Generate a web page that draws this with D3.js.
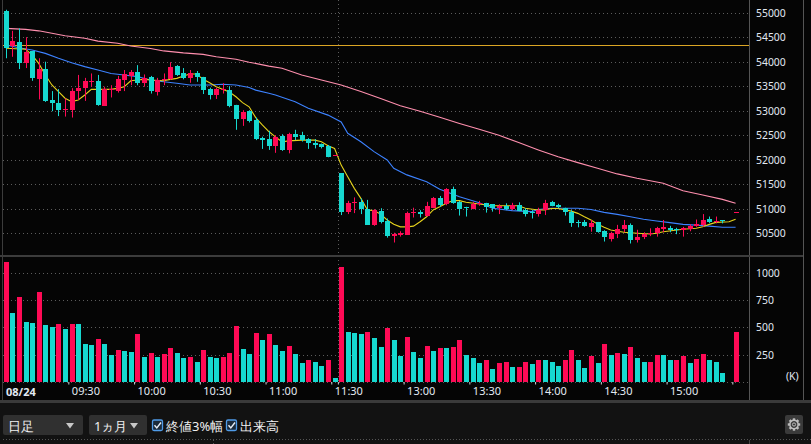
<!DOCTYPE html>
<html>
<head>
<meta charset="utf-8">
<script src="https://cdn.jsdelivr.net/npm/d3@7"></script>
<style>
    body { margin: 0; background: #121212; overflow: hidden; }
    svg { display: block; }
    text { font-family: "Noto Sans", "Liberation Sans", sans-serif; }
</style>
</head>
<body>
<div id="chart"></div>
<script>
// 3-minute candles, slot 0 = 09:00 ... slot 50 = 11:30 close, slot 51 = 12:30 ... slot 111 = 15:30 close
const openP = [
    55030, 54310, 54400, 53980, 54210, 53660, 53850, 53220, 53160, 53000,
    53010, 53390, 53470, 53590, 53610, 53100, 53430, 53400, 53610, 53690,
    53800, 53570, 53680, 53390, 53620, 53650, 53910, 53760, 53660, 53770,
    53680, 53440, 53320, 53410, 53420, 53120, 52830, 52990, 52810, 52450,
    52420, 52280, 52480, 52200, 52520, 52500, 52420, 52350, 52320, 52280,
    52090, 51720, 50920, 51100, 51140, 50990, 50670, 50950, 50750, 50430,
    50460, 50480, 50910, 50930, 50850, 51020, 51220, 51090, 51400, 51140,
    51030, 50990, 51090, 51110, 51090, 51010, 51060, 50990, 51080, 50970,
    50930, 50890, 50970, 51140, 51070, 51010, 50930, 50720, 50730, 50620,
    50730, 50540, 50380, 50480, 50580, 50670, 50360, 50410, 50480, 50500,
    50590, 50610, 50580, 50560, 50590, 50650, 50670, 50790, 50720, 50760,
    null, 50930
];
const highP = [
    55060, 54630, 54680, 54500, 54220, 54070, 54000, 53400, 53440, 53250,
    53460, 53730, 53670, 53760, 53730, 53490, 53520, 53710, 53830, 53830,
    53930, 53740, 53710, 53670, 53760, 53990, 53930, 53870, 53830, 53810,
    53690, 53470, 53470, 53560, 53500, 53120, 53010, 53010, 52860, 52470,
    52590, 52500, 52520, 52550, 52610, 52570, 52440, 52420, 52330, 52300,
    52090, 51720, 51160, 51230, 51210, 51180, 50990, 51010, 50800, 50510,
    50540, 50940, 51020, 50970, 51140, 51240, 51260, 51420, 51450, 51160,
    51040, 51140, 51160, 51120, 51090, 51090, 51110, 51120, 51130, 51010,
    50970, 51020, 51180, 51160, 51100, 51020, 50970, 50770, 50770, 50770,
    50730, 50560, 50530, 50670, 50770, 50700, 50570, 50520, 50600, 50630,
    50770, 50650, 50610, 50630, 50680, 50780, 50890, 50840, 50840, 50760,
    null, 50930
];
const lowP = [
    54070, 54100, 53850, 53870, 53610, 53230, 53180, 52990, 52890, 52880,
    52860, 53220, 53200, 53490, 53100, 53100, 53270, 53370, 53400, 53520,
    53520, 53490, 53350, 53310, 53520, 53630, 53710, 53640, 53570, 53590,
    53340, 53230, 53240, 53350, 53070, 52610, 52690, 52760, 52400, 52220,
    52200, 52140, 52180, 52130, 52400, 52370, 52220, 52230, 52230, 52050,
    52090, 50870, 50890, 50910, 50890, 50670, 50650, 50700, 50410, 50310,
    50430, 50480, 50820, 50820, 50840, 51010, 51040, 51070, 51100, 50860,
    50840, 50990, 51060, 50920, 50940, 50890, 50970, 50970, 50950, 50840,
    50800, 50840, 50870, 51050, 51010, 50860, 50630, 50620, 50630, 50530,
    50510, 50330, 50330, 50400, 50520, 50290, 50310, 50380, 50440, 50430,
    50520, 50520, 50480, 50430, 50540, 50630, 50630, 50710, 50700, 50700,
    null, 50930
];
const closeP = [
    54270, 54420, 53980, 54200, 53660, 53860, 53200, 53160, 53010, 53030,
    53400, 53460, 53610, 53610, 53120, 53440, 53450, 53650, 53740, 53780,
    53570, 53670, 53390, 53630, 53650, 53890, 53730, 53660, 53760, 53690,
    53420, 53320, 53440, 53440, 53100, 52830, 52970, 52790, 52420, 52410,
    52280, 52460, 52200, 52520, 52460, 52400, 52330, 52310, 52250, 52060,
    52090, 50920, 51110, 51130, 50990, 50670, 50970, 50720, 50440, 50480,
    50510, 50920, 50930, 50890, 51060, 51220, 51080, 51400, 51110, 50990,
    51010, 51100, 51120, 51030, 51010, 51060, 50990, 51080, 50960, 50890,
    50900, 50970, 51120, 51060, 51030, 50930, 50710, 50700, 50650, 50710,
    50530, 50410, 50500, 50580, 50670, 50360, 50430, 50480, 50500, 50610,
    50630, 50570, 50560, 50600, 50650, 50690, 50770, 50730, 50750, 50740,
    null, 50930
];

// volume in thousands; volRed: 1 = red bar, 0 = cyan bar
const volume = [
    1100, 636, 780, 553, 544, 828, 523, 505, 532, 487,
    532, 532, 349, 340, 395, 349, 249, 294, 285, 275,
    441, 230, 267, 230, 258, 313, 267, 221, 230, 184,
    294, 230, 221, 230, 267, 514, 304, 258, 450, 386,
    441, 340, 285, 331, 258, 175, 203, 184, 148, 203,
    38, 1054, 458, 450, 441, 458, 404, 322, 495, 386,
    240, 413, 276, 221, 331, 285, 313, 313, 322, 386,
    249, 221, 175, 203, 121, 175, 184, 139, 139, 184,
    166, 203, 203, 184, 148, 203, 294, 203, 130, 240,
    175, 349, 249, 267, 258, 322, 221, 184, 184, 249,
    249, 203, 203, 240, 175, 212, 258, 203, 184, 84,
    0, 458
];
const volRed = [
    1, 0, 1, 0, 0, 1, 0, 0, 1, 0,
    1, 0, 0, 0, 1, 0, 0, 1, 0, 0,
    1, 0, 1, 0, 1, 1, 0, 0, 1, 0,
    1, 0, 0, 1, 1, 1, 0, 0, 1, 0,
    1, 0, 0, 1, 0, 0, 1, 0, 0, 1,
    0, 1, 0, 0, 0, 1, 0, 0, 1, 0,
    0, 1, 0, 0, 1, 0, 1, 0, 1, 1,
    0, 0, 0, 1, 0, 1, 1, 0, 1, 1,
    0, 1, 0, 0, 0, 1, 1, 0, 0, 1,
    0, 1, 0, 1, 0, 1, 0, 0, 1, 1,
    0, 0, 1, 1, 0, 1, 1, 0, 0, 0,
    0, 1
];

// moving averages as [slot, price]
const maShort = [
    [0, 54275], [3, 54255], [4, 54135], [5, 53965], [6, 53730], [7, 53525], [8, 53390], [9, 53255],
    [10, 53185], [11, 53220], [12, 53320], [13, 53435], [16, 53435], [17, 53455], [18, 53490],
    [19, 53610], [20, 53625], [21, 53640], [22, 53625], [24, 53610], [25, 53640], [26, 53660],
    [27, 53710], [28, 53750], [29, 53750], [30, 53640], [31, 53570], [32, 53490], [34, 53380],
    [35, 53285], [36, 53165], [37, 53080], [38, 52860], [39, 52710], [40, 52575], [41, 52465],
    [42, 52365], [43, 52385], [45, 52400], [47, 52400], [48, 52365], [49, 52285], [50, 52230],
    [51, 51890], [52, 51650], [53, 51415], [54, 51210], [55, 50975], [56, 50960], [57, 50890],
    [58, 50770], [59, 50685], [60, 50630], [61, 50630], [62, 50645], [63, 50735], [64, 50835],
    [65, 50975], [66, 51040], [67, 51110], [68, 51165], [69, 51165], [70, 51130], [72, 51095],
    [74, 51060], [78, 51060], [79, 51010], [81, 50975], [82, 50975], [83, 51005], [84, 51005],
    [86, 50950], [87, 50905], [88, 50835], [89, 50770], [90, 50685], [91, 50620], [92, 50565],
    [94, 50520], [96, 50500], [98, 50485], [99, 50500], [100, 50530], [103, 50580], [105, 50600],
    [106, 50630], [107, 50680], [108, 50720], [110, 50735], [111, 50785]
];
const maMid = [
    [0, 54340], [2, 54285], [4, 54240], [6, 54170], [8, 54070], [10, 53980], [12, 53900],
    [14, 53830], [16, 53760], [18, 53730], [20, 53695], [22, 53625], [24, 53590], [26, 53560],
    [28, 53525], [31, 53525], [33, 53540], [35, 53525], [37, 53475], [38, 53420], [40, 53355],
    [41, 53320], [44, 53185], [46, 53050], [49, 52910], [51, 52770], [52, 52540], [54, 52365],
    [56, 52165], [58, 51995], [59, 51825], [61, 51690], [64, 51550], [66, 51395], [69, 51245],
    [72, 51120], [74, 51010], [77, 50960], [80, 50940], [81, 50985], [83, 51010], [87, 51010],
    [89, 50985], [91, 50925], [93, 50885], [95, 50835], [97, 50785], [99, 50750], [101, 50715],
    [103, 50680], [105, 50665], [107, 50645], [109, 50620], [111, 50620]
];
const maLong = [
    [0, 54680], [3, 54660], [5, 54630], [7, 54580], [9, 54530], [12, 54480], [14, 54420],
    [17, 54375], [19, 54320], [22, 54270], [24, 54220], [27, 54180], [30, 54150], [32, 54100],
    [35, 54050], [37, 53990], [40, 53910], [42, 53865], [45, 53730], [48, 53625], [51, 53525],
    [54, 53390], [57, 53250], [60, 53100], [63, 52990], [66, 52865], [69, 52740], [72, 52620],
    [75, 52500], [78, 52350], [81, 52200], [84, 52060], [87, 51940], [90, 51825], [93, 51710],
    [96, 51620], [100, 51520], [103, 51365], [106, 51280], [109, 51190], [111, 51110]
];
const prevClose = 54340;

const priceTicks = [50500, 51000, 51500, 52000, 52500, 53000, 53500, 54000, 54500, 55000];
const volTicks = [250, 500, 750, 1000];
const tickSlots = [10, 20, 30, 40, 50, 51, 61, 71, 81, 91, 101, 111];
const tickLabels = ["09:30", "10:00", "10:30", "11:00", "11:30", "", "13:00", "13:30", "14:00", "14:30", "15:00", ""];
const dateLabel = "08/24";
const sessionBreakSlot = 51;

const W = 811, H = 444;
const plotLeft = 2.6, plotRight = 749, axisRight = 803;
const RED = "#ff0a55", CYAN = "#16d9d0";
const TXT = "#e2e9f2", GRID = "#5c5c5c", FRAME = "#3c3c3c";

const svg = d3.select("#chart").append("svg")
    .attr("width", W)
    .attr("height", H);

// backgrounds
svg.append("rect").attr("width", W).attr("height", H).attr("fill", "#121212");
svg.append("rect").attr("width", W).attr("height", 400).attr("fill", "#050505");

// scales
const x = d3.scaleLinear().domain([0, 112]).range([plotLeft, plotLeft + 112 * 6.574]);
const yP = d3.scaleLinear().domain([50500, 55000]).range([233.2, 12.7]);
const yV = d3.scaleLinear().domain([0, 1000]).range([382.2, 272.7]);
const cx = i => Math.round(x(i + 0.5)) + 0.5;

// grid lines
const grid = svg.append("g").attr("stroke", GRID).attr("stroke-dasharray", "1 3");
grid.selectAll(".pg").data(priceTicks).join("line")
    .attr("x1", 3).attr("x2", plotRight)
    .attr("y1", d => Math.round(yP(d)) + 0.5).attr("y2", d => Math.round(yP(d)) + 0.5);
grid.selectAll(".vg").data([0].concat(volTicks)).join("line")
    .attr("x1", 3).attr("x2", plotRight)
    .attr("y1", d => Math.round(yV(d)) + 0.5).attr("y2", d => Math.round(yV(d)) + 0.5);
grid.append("line")
    .attr("x1", Math.round(x(sessionBreakSlot)) + 0.5).attr("x2", Math.round(x(sessionBreakSlot)) + 0.5)
    .attr("y1", 0).attr("y2", 382);

// previous close line
svg.append("line")
    .attr("x1", 3).attr("x2", plotRight)
    .attr("y1", Math.round(yP(prevClose)) + 0.5).attr("y2", Math.round(yP(prevClose)) + 0.5)
    .attr("stroke", "#dba524").attr("stroke-width", 1);

// moving averages
const maLine = d3.line().x(d => x(d[0] + 0.5)).y(d => yP(d[1]));
[[maLong, "#ff8fae"], [maMid, "#3d82ff"], [maShort, "#e6d21c"]].forEach(([data, color]) => {
    svg.append("path")
        .attr("d", maLine(data))
        .attr("fill", "none")
        .attr("stroke", color)
        .attr("stroke-width", 1.1);
});

// candles
const candles = d3.range(openP.length).filter(i => openP[i] !== null).map(i => ({
    i, o: openP[i], h: highP[i], l: lowP[i], c: closeP[i]
}));
const cg = svg.append("g");
cg.selectAll("line").data(candles).join("line")
    .attr("x1", d => cx(d.i)).attr("x2", d => cx(d.i))
    .attr("y1", d => yP(d.h)).attr("y2", d => yP(d.l))
    .attr("stroke", d => d.c >= d.o ? RED : CYAN);
cg.selectAll("rect").data(candles).join("rect")
    .attr("x", d => cx(d.i) - 3)
    .attr("width", 5)
    .attr("y", d => Math.round(yP(Math.max(d.o, d.c))))
    .attr("height", d => Math.max(1, Math.round(Math.abs(yP(d.o) - yP(d.c)))))
    .attr("fill", d => d.c >= d.o ? RED : CYAN)
    .attr("shape-rendering", "crispEdges");

// volume bars
svg.append("g").selectAll("rect").data(volume).join("rect")
    .attr("x", (d, i) => cx(i) - 3)
    .attr("width", 5)
    .attr("y", d => yV(d))
    .attr("height", d => yV(0) - yV(d))
    .attr("fill", (d, i) => volRed[i] ? RED : CYAN)
    .attr("shape-rendering", "crispEdges");

// frame lines
const frame = svg.append("g").attr("stroke", FRAME).attr("shape-rendering", "crispEdges");
frame.append("line").attr("x1", 2).attr("x2", 2).attr("y1", 0).attr("y2", 400);
frame.append("line").attr("x1", plotRight).attr("x2", plotRight).attr("y1", 0).attr("y2", 400).attr("stroke", "#555");
frame.append("line").attr("x1", axisRight).attr("x2", axisRight).attr("y1", 0).attr("y2", 400).attr("stroke", "#555");
frame.append("rect").attr("x", 0).attr("y", 255).attr("width", axisRight).attr("height", 2).attr("fill", FRAME).attr("stroke", "none");
frame.append("rect").attr("x", 0).attr("y", 400).attr("width", W).attr("height", 3).attr("fill", "#3a3a3a").attr("stroke", "none");
frame.append("line").attr("x1", 3).attr("x2", W).attr("y1", 439.5).attr("y2", 439.5)
    .attr("stroke", "#555").attr("stroke-dasharray", "1 2");
frame.append("line").attr("x1", 213.5).attr("x2", 213.5).attr("y1", 440).attr("y2", H)
    .attr("stroke", "#555").attr("stroke-dasharray", "1 2");
frame.append("line").attr("x1", plotRight).attr("x2", plotRight).attr("y1", 440).attr("y2", H).attr("stroke", "#444");

// price axis
const pAxis = svg.append("g")
    .attr("transform", `translate(${plotRight},0)`)
    .call(d3.axisRight(yP).tickValues(priceTicks).tickSize(0).tickPadding(7).tickFormat(d3.format("d")));
pAxis.select(".domain").remove();
pAxis.selectAll("text").attr("fill", TXT).style("font-size", "10.4px");

// volume axis
const vAxis = svg.append("g")
    .attr("transform", `translate(${plotRight},0)`)
    .call(d3.axisRight(yV).tickValues(volTicks).tickSize(0).tickPadding(7).tickFormat(d3.format("d")));
vAxis.select(".domain").remove();
vAxis.selectAll("text").attr("fill", TXT).style("font-size", "10.4px");
svg.append("text").attr("x", 786).attr("y", 380).attr("fill", TXT)
    .style("font-size", "10.4px").text("(K)");

// time axis
const tAxis = svg.append("g")
    .attr("transform", "translate(0,382)")
    .call(d3.axisBottom(x).tickValues(tickSlots).tickSize(2.5).tickFormat((d, i) => tickLabels[i]));
tAxis.select(".domain").remove();
tAxis.selectAll(".tick line").attr("stroke", "#cfd6de");
tAxis.selectAll("text")
    .attr("text-anchor", "start")
    .attr("x", 3).attr("y", 5.5)
    .attr("fill", TXT)
    .style("font-size", "11px");
svg.append("text").attr("x", 6).attr("y", 396).attr("fill", TXT)
    .style("font-size", "11px").style("font-weight", "bold").text(dateLabel);

// toolbar
const bar = svg.append("g").style("font-family", "'Noto Sans CJK JP', 'Noto Sans', sans-serif");
function dropdown(x0, w, label) {
    bar.append("rect").attr("x", x0).attr("y", 415).attr("width", w).attr("height", 20)
        .attr("rx", 2).attr("fill", "#303030");
    bar.append("text").attr("x", x0 + 5).attr("y", 430.5).attr("fill", "#f0f0f0")
        .style("font-size", "13px").text(label);
    const tx = x0 + w - 13;
    bar.append("path").attr("d", `M${tx - 4},423 L${tx + 4},423 L${tx},428.5 Z`).attr("fill", "#c8c8c8");
}
dropdown(3, 80, "日足");
dropdown(89, 58, "1ヵ月");
function checkbox(x0, label) {
    bar.append("rect").attr("x", x0 + 0.5).attr("y", 420).attr("width", 10).attr("height", 10.5)
        .attr("rx", 1.5).attr("fill", "#1b2a3a").attr("stroke", "#4f9be8").attr("stroke-width", 1.3);
    bar.append("path").attr("d", `M${x0 + 2.5},425.3 L${x0 + 4.8},428 L${x0 + 9},422.5`)
        .attr("fill", "none").attr("stroke", "#e8f0f8").attr("stroke-width", 1.4);
    bar.append("text").attr("x", x0 + 14).attr("y", 430.5).attr("fill", "#f0f0f0")
        .style("font-size", "13px").text(label);
}
checkbox(152, "終値3%幅");
checkbox(226, "出来高");

// settings button
const gx = 794, gy = 424.5;
bar.append("rect").attr("x", 785).attr("y", 415).attr("width", 18).attr("height", 19).attr("rx", 2).attr("fill", "#3a3a3a");
const gear = bar.append("g").attr("transform", `translate(${gx},${gy})`);
d3.range(8).forEach(k => {
    gear.append("rect").attr("x", -1.2).attr("y", -6.2).attr("width", 2.4).attr("height", 2.6)
        .attr("fill", "#bdbdbd").attr("transform", `rotate(${k * 45})`);
});
gear.append("circle").attr("r", 4.2).attr("fill", "none").attr("stroke", "#bdbdbd").attr("stroke-width", 1.4);
gear.append("circle").attr("r", 1.6).attr("fill", "none").attr("stroke", "#bdbdbd").attr("stroke-width", 1);
</script>
</body>
</html>
